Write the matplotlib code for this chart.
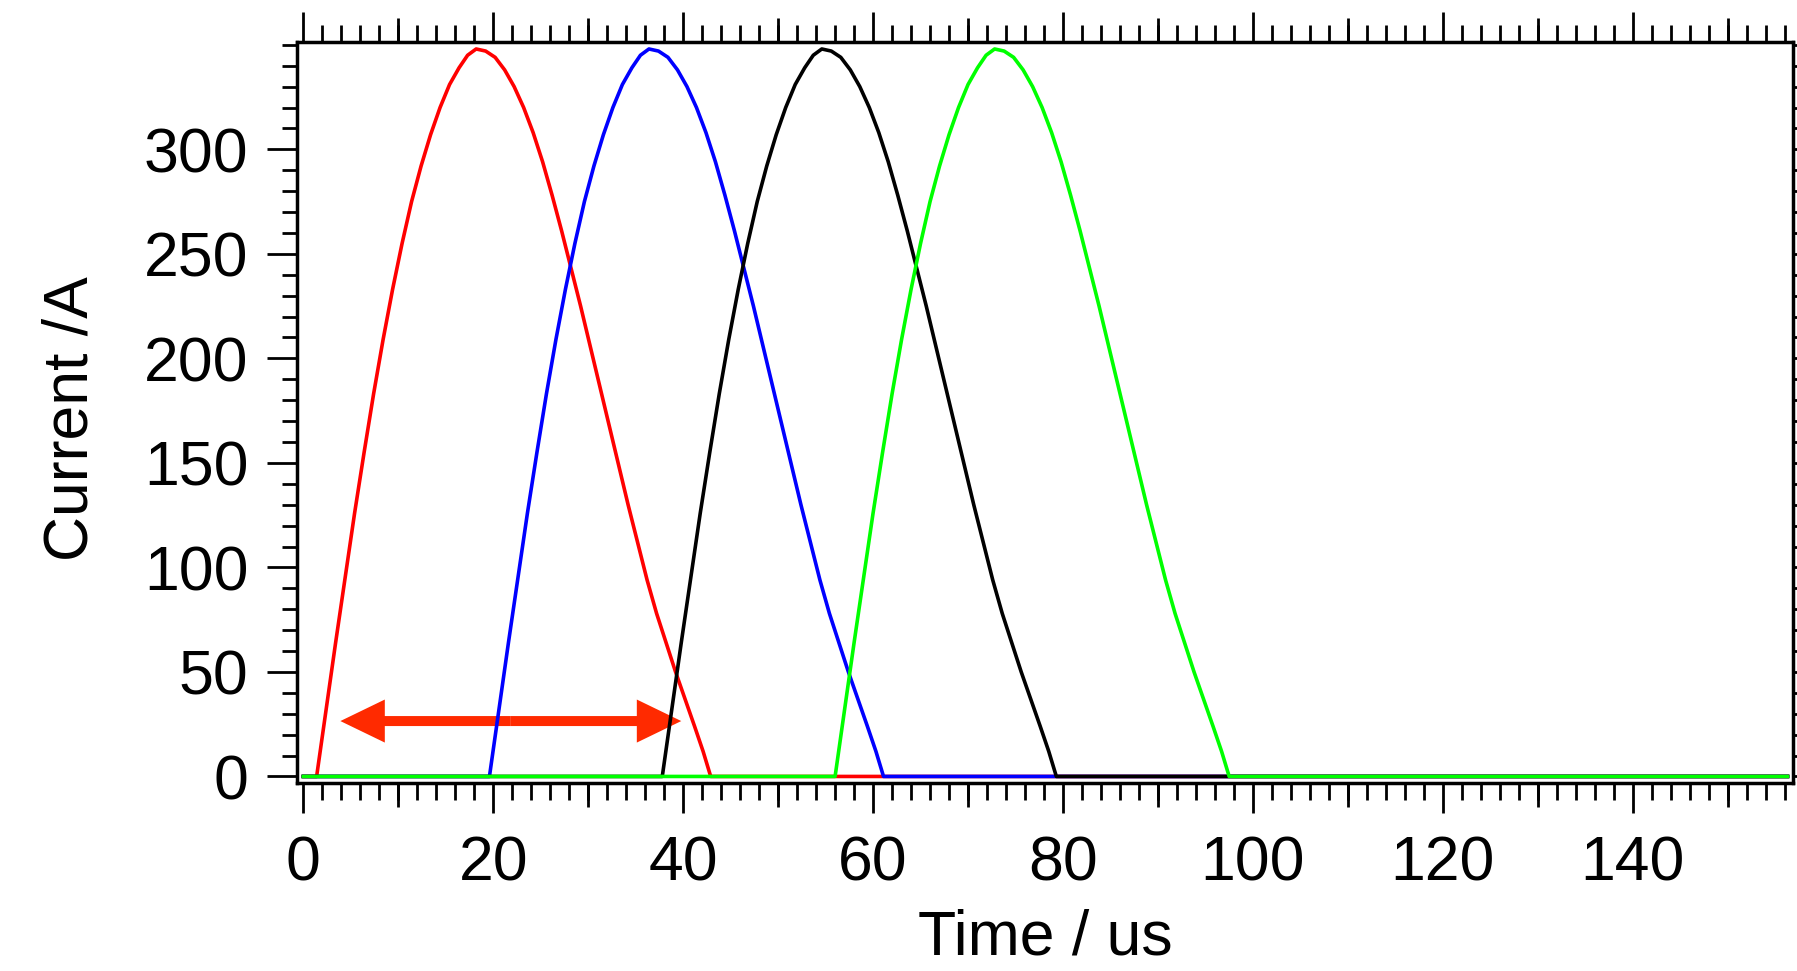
import matplotlib
matplotlib.use('Agg')
import matplotlib.pyplot as plt
from matplotlib.patches import FancyArrowPatch
from matplotlib.ticker import MultipleLocator, FixedLocator

# current pulses (time in us, current in A)
t_red = [0, 1.4, 2.4, 3.4, 4.4, 5.4, 6.4, 7.4, 8.4, 9.4, 10.4, 11.4, 12.4, 13.4, 14.4, 15.4, 16.4,
         17.3, 18.2, 19.2, 20.2, 21.2, 22.2, 23.2, 24.2, 25.2, 26.2, 27.2, 28.2, 29.2, 30.2, 31.2,
         32.2, 33.2, 34.2, 35.2, 36.2, 37.2, 38.2, 39.2, 40.2, 41.2, 42.1, 42.9, 156.3]
t_blue = [0, 19.6, 20.6, 21.6, 22.6, 23.6, 24.6, 25.6, 26.6, 27.6, 28.6, 29.6, 30.6, 31.6, 32.6, 33.6, 34.6,
          35.5, 36.4, 37.4, 38.4, 39.4, 40.4, 41.4, 42.4, 43.4, 44.4, 45.4, 46.4, 47.4, 48.4, 49.4,
          50.4, 51.4, 52.4, 53.4, 54.4, 55.4, 56.4, 57.4, 58.4, 59.4, 60.3, 61.1, 156.3]
t_black = [0, 37.8, 38.8, 39.8, 40.8, 41.8, 42.8, 43.8, 44.8, 45.8, 46.8, 47.8, 48.8, 49.8, 50.8, 51.8, 52.8,
           53.7, 54.6, 55.6, 56.6, 57.6, 58.6, 59.6, 60.6, 61.6, 62.6, 63.6, 64.6, 65.6, 66.6, 67.6,
           68.6, 69.6, 70.6, 71.6, 72.6, 73.6, 74.6, 75.6, 76.6, 77.6, 78.5, 79.3, 156.3]
t_green = [0, 56.0, 57.0, 58.0, 59.0, 60.0, 61.0, 62.0, 63.0, 64.0, 65.0, 66.0, 67.0, 68.0, 69.0, 70.0, 71.0,
           71.9, 72.8, 73.8, 74.8, 75.8, 76.8, 77.8, 78.8, 79.8, 80.8, 81.8, 82.8, 83.8, 84.8, 85.8,
           86.8, 87.8, 88.8, 89.8, 90.8, 91.8, 92.8, 93.8, 94.8, 95.8, 96.7, 97.5, 156.3]
current = [0, 0, 32, 64, 95, 126, 155, 183, 209, 233, 255, 275, 292, 307, 320, 331, 339,
           345, 348, 347, 344, 338, 330, 320, 308, 294, 278, 261, 243, 225, 206, 187,
           168, 149, 130, 112, 94, 78, 64, 50, 37, 24, 12, 0, 0]

series = [(t_red, 'red'), (t_blue, 'blue'), (t_black, 'black'), (t_green, '#00ff00')]

arrow_t = (3.9, 39.8)
arrow_i = 26.5

x_ticks = [0, 20, 40, 60, 80, 100, 120, 140]
x_mid_ticks = [10, 30, 50, 70, 90, 110, 130, 150]
y_ticks = [0, 50, 100, 150, 200, 250, 300]

plt.rcParams['font.family'] = ['Liberation Sans', 'DejaVu Sans']

fig = plt.figure(figsize=(17.97, 9.71), dpi=100)
ax = fig.add_axes([0.1651, 0.1939, 0.8328, 0.7632])

for t, c in series:
    ax.plot(t, current, color=c, lw=2.6, solid_joinstyle='round')

# double headed arrow, made of two halves
mid = (arrow_t[0] + arrow_t[1]) / 2
for end in arrow_t:
    ax.add_patch(FancyArrowPatch((mid, arrow_i), (end, arrow_i),
                                 arrowstyle='simple,head_length=32,head_width=31,tail_width=7.2',
                                 mutation_scale=1, color='#ff2a00', lw=0,
                                 shrinkA=0, shrinkB=0))

ax.set_xlim(-0.7, 156.9)
ax.set_ylim(-3, 351.5)

ax.xaxis.set_major_locator(FixedLocator(x_ticks))
ax.xaxis.set_minor_locator(MultipleLocator(2))
ax.yaxis.set_major_locator(FixedLocator(y_ticks))
ax.yaxis.set_minor_locator(MultipleLocator(10))

ax.tick_params(which='both', direction='out', width=2, color='black',
               top=True, right=True, labeltop=False, labelright=False)
ax.tick_params(axis='x', which='major', length=21.6, labelsize=45, pad=16)
ax.tick_params(axis='x', which='minor', length=11.9)
ax.tick_params(axis='y', which='major', length=21.6, labelsize=45, pad=13)
ax.tick_params(axis='y', which='minor', length=10.8)

# medium ticks every 10 us on top and bottom
for side in ['bottom', 'top']:
    sec = ax.secondary_xaxis(side)
    sec.xaxis.set_major_locator(FixedLocator(x_mid_ticks))
    sec.tick_params(direction='out', length=17.3, width=2, labelbottom=False, labeltop=False)
    for s in sec.spines.values():
        s.set_visible(False)

for s in ax.spines.values():
    s.set_linewidth(2.5)

ax.set_xlabel('Time / us', fontsize=45)
ax.set_ylabel('Current /A', fontsize=45)
ax.xaxis.set_label_coords(0.5, -0.1695)
ax.yaxis.set_label_coords(-0.131, 0.492)

fig.savefig('out.png', dpi=100)
